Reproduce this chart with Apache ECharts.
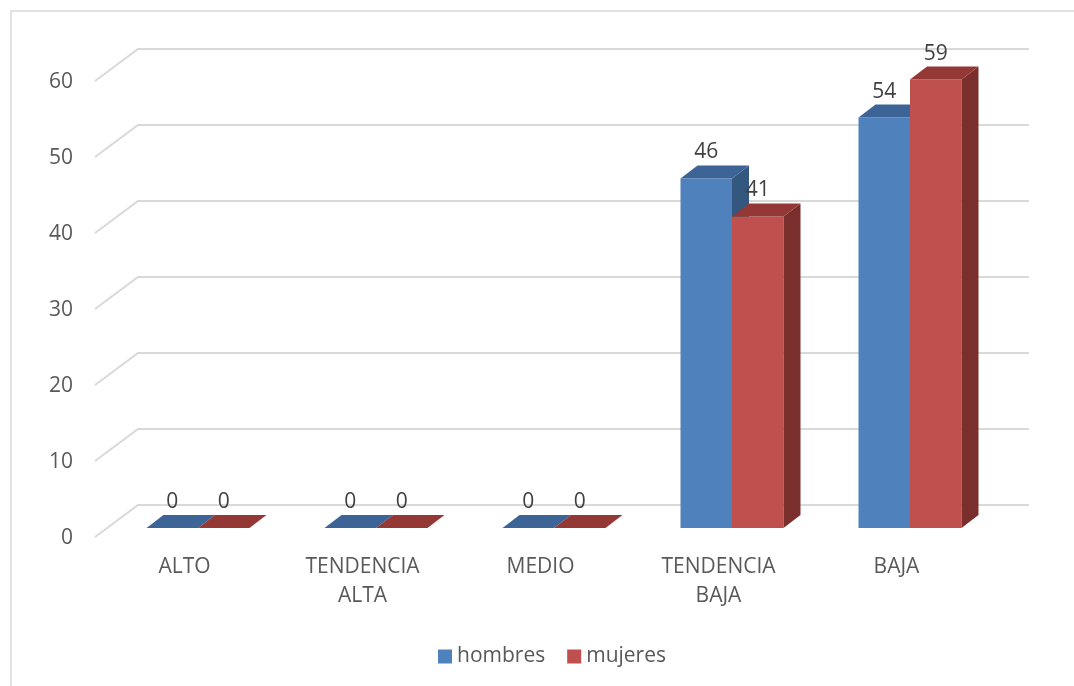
<!DOCTYPE html>
<html>
<head>
<meta charset="utf-8">
<script src="https://cdn.jsdelivr.net/npm/echarts@6/dist/echarts.min.js"></script>
<style>
html,body{margin:0;padding:0;background:#fff;}
#chart{width:1074px;height:686px;}
</style>
</head>
<body>
<div id="chart"></div>
<script>
var categories = ['ALTO', 'TENDENCIA\nALTA', 'MEDIO', 'TENDENCIA\nBAJA', 'BAJA'];
var hombres = [0, 0, 0, 46, 54];
var mujeres = [0, 0, 0, 41, 59];
var yTicks = [0, 10, 20, 30, 40, 50, 60];

var FONT = 'Open Sans';
var DX = 17, DY = -13;

function barRenderer(side, front, topC, sideC) {
  return function (params, api) {
    var idx = api.value(0), v = api.value(1);
    var top = api.coord([idx, v]);
    var base = api.coord([idx, 0]);
    var band = api.size([1, 0])[0];
    var w = band * 0.2893;
    var x0 = side === 0 ? top[0] - w : top[0];
    var x1 = x0 + w;
    var yT = top[1], yB = base[1];
    return {
      type: 'group',
      children: [
        { type: 'rect', shape: { x: x0, y: yT, width: w, height: yB - yT }, style: { fill: front } },
        { type: 'polygon', shape: { points: [[x1, yT], [x1 + DX, yT + DY], [x1 + DX, yB + DY], [x1, yB]] }, style: { fill: sideC } },
        { type: 'polygon', shape: { points: [[x0, yT], [x0 + DX, yT + DY], [x1 + DX, yT + DY], [x1, yT]] }, style: { fill: topC } },
        { type: 'text', style: { text: String(v), x: x0 + w / 2, y: yT - 26, textAlign: 'center', textVerticalAlign: 'middle', fontSize: 21, fontFamily: FONT, fill: '#404040' } }
      ]
    };
  };
}

function gridRenderer(params, api) {
  var v = api.value(1);
  var p = api.coord([0, v]);
  var cs = params.coordSys;
  var y = p[1];
  return {
    type: 'polyline',
    shape: { points: [[cs.x - 14, y + 9], [cs.x + 29, y - 23], [cs.x + 920, y - 23]] },
    style: { stroke: '#d9d9d9', lineWidth: 2, fill: null }
  };
}

var chart = echarts.init(document.getElementById('chart'));
chart.setOption({
  animation: false,
  backgroundColor: '#fff',
  textStyle: { fontFamily: FONT },
  graphic: [{
    type: 'rect', shape: { x: 11, y: 11, width: 1200, height: 800 },
    style: { fill: null, stroke: '#d9d9d9', lineWidth: 1.5 }, silent: true
  }],
  grid: { left: 109, top: 72, width: 890, height: 456 },
  legend: {
    data: ['hombres', 'mujeres'],
    left: 433, top: 641,
    icon: 'rect', itemWidth: 14, itemHeight: 14, itemGap: 22,
    textStyle: { fontSize: 21, color: '#595959', fontFamily: FONT }
  },
  xAxis: {
    type: 'category', data: categories,
    axisLine: { show: false }, axisTick: { show: false },
    axisLabel: { margin: 25, fontSize: 21, lineHeight: 29, color: '#595959', fontFamily: FONT, padding: [0, 27, 0, 0] }
  },
  yAxis: {
    type: 'value', min: 0, max: 60, interval: 10,
    splitLine: { show: false }, axisLine: { show: false }, axisTick: { show: false },
    axisLabel: { margin: 36, fontSize: 21, color: '#595959', fontFamily: FONT, verticalAlign: 'top' }
  },
  series: [
    { type: 'custom', name: 'grid', coordinateSystem: 'cartesian2d', renderItem: gridRenderer, clip: false, z: 1, silent: true,
      data: yTicks.map(function (t) { return [0, t]; }) },
    { type: 'custom', name: 'hombres', coordinateSystem: 'cartesian2d', clip: false, z: 2,
      itemStyle: { color: '#4F81BD' },
      renderItem: barRenderer(0, '#4F81BD', '#3C6497', '#34577F'),
      data: hombres.map(function (v, i) { return [i, v]; }) },
    { type: 'custom', name: 'mujeres', coordinateSystem: 'cartesian2d', clip: false, z: 3,
      itemStyle: { color: '#C0504D' },
      renderItem: barRenderer(1, '#C0504D', '#943836', '#7B2F2D'),
      data: mujeres.map(function (v, i) { return [i, v]; }) }
  ]
});
</script>
</body>
</html>
